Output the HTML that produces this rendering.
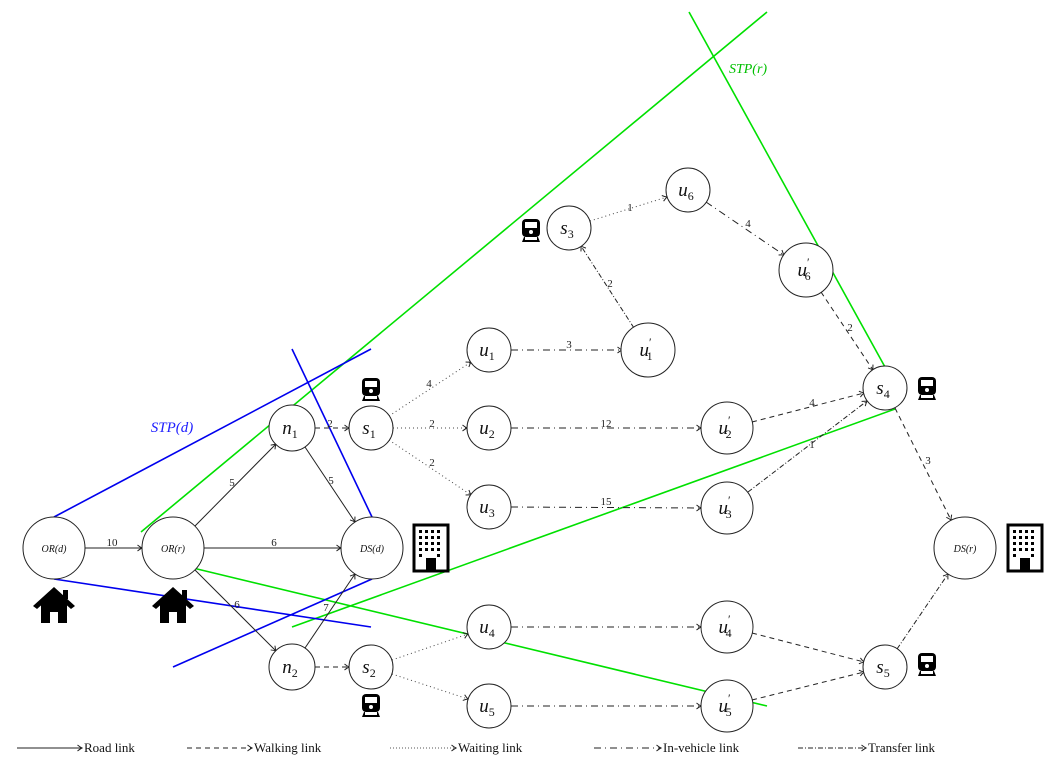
<!DOCTYPE html>
<html><head><meta charset="utf-8"><style>
html,body{margin:0;padding:0;background:#fff;}
svg{display:block;}
text{font-family:"Liberation Serif",serif;}
.m{font-style:italic;}
</style></head><body>
<svg width="1054" height="770" viewBox="0 0 1054 770" xmlns="http://www.w3.org/2000/svg">
<defs>
<marker id="a" markerWidth="8" markerHeight="8" refX="6" refY="4" orient="auto" markerUnits="userSpaceOnUse">
<path d="M1.5,1 Q4,3 6,4 Q4,5 1.5,7" fill="none" stroke="#222" stroke-width="1"/>
</marker>
<g id="train">
<rect x="-9" y="-12" width="18" height="18" rx="4" fill="#000"/>
<rect x="-6" y="-9" width="12" height="6" fill="#fff"/>
<circle cx="0" cy="1" r="2" fill="#fff"/>
<path d="M-7,6 L-9,11 L9,11 L7,6 Z" fill="#000"/>
<rect x="-6" y="6" width="12" height="3" fill="#fff"/>
</g>
<g id="house">
<path d="M-21,0 L0,-19 L21,0 L17,3 L0,-12 L-17,3 Z" fill="#000"/>
<rect x="9" y="-16" width="5" height="9" fill="#000"/>
<path d="M-13,-2 L0,-13 L13,-2 L13,17 L-13,17 Z" fill="#000"/>
<rect x="-4" y="6" width="8" height="11" fill="#fff"/>
</g>
<g id="bld">
<rect x="-17" y="-23" width="34" height="46" fill="#fff" stroke="#000" stroke-width="3"/>
<g fill="#000">
<rect x="-12" y="-18" width="3" height="3"/><rect x="-6" y="-18" width="3" height="3"/><rect x="0" y="-18" width="3" height="3"/><rect x="6" y="-18" width="3" height="3"/>
<rect x="-12" y="-12" width="3" height="3"/><rect x="-6" y="-12" width="3" height="3"/><rect x="0" y="-12" width="3" height="3"/><rect x="6" y="-12" width="3" height="3"/>
<rect x="-12" y="-6" width="3" height="3"/><rect x="-6" y="-6" width="3" height="3"/><rect x="0" y="-6" width="3" height="3"/><rect x="6" y="-6" width="3" height="3"/>
<rect x="-12" y="0" width="3" height="3"/><rect x="-6" y="0" width="3" height="3"/><rect x="0" y="0" width="3" height="3"/><rect x="6" y="0" width="3" height="3"/>
<rect x="-12" y="6" width="3" height="3"/><rect x="6" y="6" width="3" height="3"/>
<rect x="-5" y="10" width="10" height="13"/>
</g>
</g>
</defs>

<!-- STP lines -->
<g stroke="#00e000" stroke-width="1.6" fill="none">
<line x1="689" y1="12" x2="885" y2="367"/>
<line x1="767" y1="12" x2="141" y2="532"/>
<line x1="292" y1="627" x2="895" y2="409"/>
<line x1="193" y1="568" x2="767" y2="706"/>
</g>
<g stroke="#0000ee" stroke-width="1.6" fill="none">
<line x1="54" y1="517" x2="371" y2="349"/>
<line x1="292" y1="349" x2="372" y2="517"/>
<line x1="54" y1="579" x2="371" y2="627"/>
<line x1="173" y1="667" x2="372" y2="579"/>
</g>
<text x="748" y="73" fill="#00c000" font-size="14" class="m" text-anchor="middle">STP(r)</text>
<text x="172" y="432" fill="#2020ff" font-size="15" class="m" text-anchor="middle">STP(d)</text>

<!-- edges -->
<g stroke="#222" stroke-width="1" fill="none" marker-end="url(#a)">
<line x1="85" y1="548" x2="142" y2="548"/>
<line x1="195" y1="526" x2="276" y2="444"/>
<line x1="204" y1="548" x2="341" y2="548"/>
<line x1="195" y1="570" x2="276" y2="651"/>
<line x1="305" y1="447" x2="355" y2="522"/>
<line x1="305" y1="648" x2="355" y2="574"/>
</g>
<g stroke="#222" stroke-width="1" fill="none" marker-end="url(#a)" stroke-dasharray="5,4">
<line x1="315" y1="428" x2="349" y2="428"/>
<line x1="315" y1="667" x2="349" y2="667"/>
<line x1="821" y1="292" x2="873" y2="370"/>
<line x1="752" y1="422" x2="864" y2="393"/>
<line x1="895" y1="408" x2="951" y2="520"/>
<line x1="752" y1="633" x2="864" y2="662"/>
<line x1="752" y1="700" x2="864" y2="672"/>
</g>
<g stroke="#444" stroke-width="1" fill="none" marker-end="url(#a)" stroke-dasharray="1,3">
<line x1="389" y1="416" x2="471" y2="362"/>
<line x1="393" y1="428" x2="467" y2="428"/>
<line x1="389" y1="440" x2="471" y2="495"/>
<line x1="392" y1="660" x2="468" y2="634"/>
<line x1="392" y1="674" x2="468" y2="699"/>
<line x1="590" y1="221" x2="667" y2="197"/>
</g>
<g stroke="#222" stroke-width="1" fill="none" marker-end="url(#a)" stroke-dasharray="7,4,1,4">
<line x1="511" y1="350" x2="622" y2="350"/>
<line x1="511" y1="428" x2="701" y2="428"/>
<line x1="511" y1="507" x2="701" y2="508"/>
<line x1="511" y1="627" x2="701" y2="627"/>
<line x1="511" y1="706" x2="701" y2="706"/>
<line x1="706" y1="202" x2="784" y2="255"/>
</g>
<g stroke="#222" stroke-width="1" fill="none" marker-end="url(#a)" stroke-dasharray="5,2,1,2">
<line x1="634" y1="328" x2="581" y2="246"/>
<line x1="748" y1="492" x2="867" y2="401"/>
<line x1="897" y1="649" x2="948" y2="574"/>
</g>

<!-- edge labels -->
<g font-size="11" fill="#222" text-anchor="middle">
<text x="112" y="546">10</text>
<text x="232" y="486">5</text>
<text x="274" y="546">6</text>
<text x="237" y="608">6</text>
<text x="331" y="484">5</text>
<text x="326" y="611">7</text>
<text x="330" y="427">2</text>
<text x="429" y="387">4</text>
<text x="432" y="427">2</text>
<text x="432" y="466">2</text>
<text x="630" y="211">1</text>
<text x="569" y="348">3</text>
<text x="606" y="427">12</text>
<text x="606" y="505">15</text>
<text x="748" y="227">4</text>
<text x="610" y="287">2</text>
<text x="812" y="448">1</text>
<text x="850" y="331">2</text>
<text x="812" y="406">4</text>
<text x="928" y="464">3</text>
</g>

<!-- nodes -->
<g fill="#fff" stroke="#222" stroke-width="1">
<circle cx="54" cy="548" r="31"/>
<circle cx="173" cy="548" r="31"/>
<circle cx="372" cy="548" r="31"/>
<circle cx="965" cy="548" r="31"/>
<circle cx="292" cy="428" r="23"/>
<circle cx="292" cy="667" r="23"/>
<circle cx="371" cy="428" r="22"/>
<circle cx="371" cy="667" r="22"/>
<circle cx="489" cy="350" r="22"/>
<circle cx="489" cy="428" r="22"/>
<circle cx="489" cy="507" r="22"/>
<circle cx="489" cy="627" r="22"/>
<circle cx="489" cy="706" r="22"/>
<circle cx="648" cy="350" r="27"/>
<circle cx="727" cy="428" r="26"/>
<circle cx="727" cy="508" r="26"/>
<circle cx="727" cy="627" r="26"/>
<circle cx="727" cy="706" r="26"/>
<circle cx="569" cy="228" r="22"/>
<circle cx="688" cy="190" r="22"/>
<circle cx="806" cy="270" r="27"/>
<circle cx="885" cy="388" r="22"/>
<circle cx="885" cy="667" r="22"/>
</g>

<g fill="#111" class="m" text-anchor="middle">
<g font-size="10">
<text x="54" y="552">OR(d)</text>
<text x="173" y="552">OR(r)</text>
<text x="372" y="552">DS(d)</text>
<text x="965" y="552">DS(r)</text>
</g>
<g font-size="19">
<text x="290" y="434">n<tspan font-size="12" dy="4" font-style="normal">1</tspan></text>
<text x="290" y="673">n<tspan font-size="12" dy="4" font-style="normal">2</tspan></text>
<text x="369" y="434">s<tspan font-size="12" dy="4" font-style="normal">1</tspan></text>
<text x="369" y="673">s<tspan font-size="12" dy="4" font-style="normal">2</tspan></text>
<text x="567" y="234">s<tspan font-size="12" dy="4" font-style="normal">3</tspan></text>
<text x="883" y="394">s<tspan font-size="12" dy="4" font-style="normal">4</tspan></text>
<text x="883" y="673">s<tspan font-size="12" dy="4" font-style="normal">5</tspan></text>
<text x="487" y="356">u<tspan font-size="12" dy="4" font-style="normal">1</tspan></text>
<text x="487" y="434">u<tspan font-size="12" dy="4" font-style="normal">2</tspan></text>
<text x="487" y="513">u<tspan font-size="12" dy="4" font-style="normal">3</tspan></text>
<text x="487" y="633">u<tspan font-size="12" dy="4" font-style="normal">4</tspan></text>
<text x="487" y="712">u<tspan font-size="12" dy="4" font-style="normal">5</tspan></text>
<text x="686" y="196">u<tspan font-size="12" dy="4" font-style="normal">6</tspan></text>
<text x="646" y="356">u<tspan font-size="12" dy="-10" font-style="normal">′</tspan><tspan font-size="12" dx="-5" dy="14" font-style="normal">1</tspan></text>
<text x="725" y="434">u<tspan font-size="12" dy="-10" font-style="normal">′</tspan><tspan font-size="12" dx="-5" dy="14" font-style="normal">2</tspan></text>
<text x="725" y="514">u<tspan font-size="12" dy="-10" font-style="normal">′</tspan><tspan font-size="12" dx="-5" dy="14" font-style="normal">3</tspan></text>
<text x="725" y="633">u<tspan font-size="12" dy="-10" font-style="normal">′</tspan><tspan font-size="12" dx="-5" dy="14" font-style="normal">4</tspan></text>
<text x="725" y="712">u<tspan font-size="12" dy="-10" font-style="normal">′</tspan><tspan font-size="12" dx="-5" dy="14" font-style="normal">5</tspan></text>
<text x="804" y="276">u<tspan font-size="12" dy="-10" font-style="normal">′</tspan><tspan font-size="12" dx="-5" dy="14" font-style="normal">6</tspan></text>
</g>
</g>

<!-- icons -->
<use href="#train" x="371" y="390"/>
<use href="#train" x="531" y="231"/>
<use href="#train" x="927" y="389"/>
<use href="#train" x="927" y="665"/>
<use href="#train" x="371" y="706"/>
<use href="#house" x="54" y="606"/>
<use href="#house" x="173" y="606"/>
<use href="#bld" x="431" y="548"/>
<use href="#bld" x="1025" y="548"/>

<!-- legend -->
<g stroke="#222" stroke-width="1" fill="none" marker-end="url(#a)">
<line x1="17" y1="748" x2="82" y2="748"/>
<line x1="187" y1="748" x2="252" y2="748" stroke-dasharray="5,4"/>
<line x1="390" y1="748" x2="456" y2="748" stroke-dasharray="1,2" stroke="#555"/>
<line x1="594" y1="748" x2="661" y2="748" stroke-dasharray="7,4,1,4"/>
<line x1="798" y1="748" x2="866" y2="748" stroke-dasharray="5,2,1,2"/>
</g>
<g font-size="13" fill="#111">
<text x="84" y="752">Road link</text>
<text x="254" y="752">Walking link</text>
<text x="458" y="752">Waiting link</text>
<text x="663" y="752">In-vehicle link</text>
<text x="868" y="752">Transfer link</text>
</g>
</svg>
</body></html>
